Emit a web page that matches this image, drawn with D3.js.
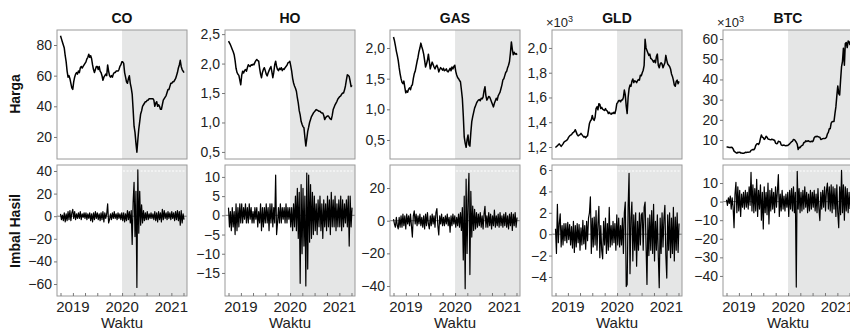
<!DOCTYPE html>
<html><head><meta charset="utf-8">
<script src="https://cdn.jsdelivr.net/npm/d3@7"></script>
<style>
body{margin:0;overflow:hidden;background:#fff}
svg{display:block;font-family:"Liberation Sans",Arial,Helvetica,sans-serif}
</style>
</head><body>
<svg id="chart" width="850" height="335"></svg>
<script>
// ---------------- DATA ----------------
const assets = ["CO", "HO", "GAS", "GLD", "BTC"];
const firstWeek = "2018-10-01";      // weekly observations start
const crisisStart = "2020-01-01";    // shaded period start
const yearTicks = [2019, 2020, 2021];

const priceCO = [86,84,82,80,78,73,69,63,59,60,
58,55,52,51,56,59,61,62,61,63,
62,65,66,65,66,67,68,69,71,72,
74,72,73,71,67,64,62,64,66,66,
64,66,63,62,60,57,59,60,61,60,
67,63,60,59,60,59,61,62,62,63,
63,63,64,66,67,69,69,68,62,59,
56,55,58,60,55,52,48,38,27,23,
16,10,18,25,30,35,37,40,41,42,
43,43,44,44,45,45,45,45,45,44,
40,42,43,40,41,40,38,38,41,44,
45,46,47,49,51,51,53,55,55,56,
56,57,58,60,62,65,67,70,66,64,
63,62];

const priceHO = [2.38,2.35,2.32,2.28,2.24,2.20,2.15,2.05,1.92,1.85,
1.82,1.80,1.72,1.64,1.80,1.87,1.84,1.88,1.90,1.87,
1.93,1.98,1.96,1.95,1.98,1.97,1.99,1.98,2.02,2.05,
2.07,2.05,2.04,1.92,1.82,1.76,1.85,1.90,1.93,1.88,
1.82,1.79,1.84,1.88,1.92,1.95,1.86,1.76,1.85,1.98,
2.04,1.95,1.90,1.88,1.92,1.90,1.93,1.88,1.91,1.90,
1.93,1.95,1.97,2.01,2.02,2.04,1.96,1.87,1.75,1.67,
1.62,1.58,1.53,1.42,1.33,1.20,1.13,1.02,0.97,0.93,
0.91,0.75,0.60,0.72,0.85,0.92,1.00,1.05,1.10,1.13,
1.16,1.18,1.20,1.22,1.21,1.20,1.19,1.19,1.17,1.16,
1.16,1.12,1.05,1.08,1.10,1.11,1.11,1.08,1.06,1.05,
1.12,1.22,1.26,1.30,1.33,1.36,1.40,1.42,1.44,1.45,
1.48,1.50,1.50,1.55,1.62,1.72,1.81,1.80,1.78,1.70,
1.61,1.63];

const priceGAS = [2.18,2.12,2.04,1.95,1.88,1.80,1.68,1.58,1.50,1.44,
1.42,1.46,1.36,1.27,1.30,1.28,1.33,1.35,1.32,1.38,
1.40,1.50,1.58,1.62,1.70,1.78,1.85,1.94,2.00,2.08,
2.02,1.97,1.90,1.80,1.69,1.74,1.80,1.90,1.78,1.66,
1.72,1.77,1.73,1.69,1.66,1.70,1.72,1.68,1.61,1.65,
1.68,1.66,1.64,1.67,1.63,1.64,1.66,1.62,1.61,1.64,
1.67,1.63,1.69,1.66,1.70,1.72,1.62,1.56,1.52,1.50,
1.47,1.45,1.32,1.18,0.90,0.55,0.45,0.38,0.50,0.58,
0.42,0.40,0.62,0.80,0.88,0.95,1.02,1.06,1.10,1.13,
1.15,1.16,1.14,1.18,1.17,1.20,1.30,1.37,1.22,1.15,
1.18,1.21,1.20,1.16,1.12,1.08,1.04,1.10,1.14,1.18,
1.15,1.22,1.25,1.28,1.34,1.40,1.48,1.50,1.55,1.60,
1.62,1.68,1.72,1.78,1.92,2.10,1.98,1.89,1.93,1.90,
1.91,1.89];

const priceGLD = [1195,1205,1210,1218,1225,1215,1205,1215,1225,1240,
1245,1250,1255,1265,1280,1290,1295,1300,1312,1318,
1325,1340,1320,1300,1290,1295,1300,1310,1300,1290,
1280,1285,1275,1285,1290,1340,1390,1410,1420,1455,
1425,1415,1440,1510,1525,1500,1550,1545,1510,1520,
1505,1500,1495,1510,1495,1490,1470,1480,1470,1465,
1475,1470,1480,1470,1500,1550,1560,1575,1575,1565,
1580,1580,1600,1660,1620,1530,1470,1600,1670,1700,
1690,1730,1750,1720,1735,1730,1720,1735,1745,1740,
1780,1775,1800,1820,1860,2070,2000,1980,1960,1940,
1950,1915,1910,1900,1885,1900,1880,1930,1950,1860,
1840,1870,1880,1870,1840,1860,1880,1940,1900,1870,
1860,1850,1830,1790,1770,1740,1700,1690,1730,1740,
1710,1730];

const priceBTC = [6600,6500,6400,6300,6300,6400,6300,5600,4500,4100,
3800,3500,3900,3800,4000,3600,3600,3500,3400,3600,
3900,3800,3900,3900,4000,4100,4900,5100,5300,5200,
5800,7300,8000,8200,7800,8700,10800,12500,11400,11200,
10300,10800,11900,11400,10500,10400,10200,10100,10400,10300,
10000,9900,8500,8200,8300,9400,9200,9000,7600,7300,
7400,7500,7300,7200,7300,7300,7700,8100,8700,9200,
9400,10300,10200,9600,8900,8000,5300,6400,6200,6900,
7300,7500,8800,8800,9600,9300,9500,9600,9200,9100,
9400,9200,9600,11100,11700,11600,11900,11700,11500,11400,
10300,10400,10700,10800,10700,10900,11400,13000,13800,15600,
15600,18400,19100,19200,19200,23100,26400,31900,36800,33000,
32300,39800,46400,49000,55500,47000,57800,58300,55800,59000,
58700,57000];

const retCO = [2,-3,1,-4,3,-5,2,-4,4,-3,
5,-4,3,6,-2,4,-3,2,-2,3,
-2,4,-3,2,-1,3,-2,3,-3,2,
-2,3,-4,2,-5,3,-3,4,-2,3,
-3,2,-4,3,-3,4,-5,3,-2,2,
11,-6,-3,2,-3,3,-2,4,-2,2,
-3,3,-2,2,-3,3,-4,3,-5,2,
-4,5,-3,4,-6,5,-25,12,30,-18,
22,-63,41,-15,22,-8,10,-6,5,-4,
3,-3,4,-3,2,-2,3,-2,2,-3,
4,-4,3,-5,4,-3,3,-5,6,-3,
5,-2,3,-3,4,-2,3,-3,4,-2,
3,-4,4,-3,5,-4,4,-8,5,-6,
2,-3];

const retHO = [2,-3,1,-4,2,-3,1,-5,3,-4,
2,-3,3,-2,3,-2,2,-1,3,-2,
2,-2,3,-1,2,-2,1,-2,2,-1,
2,-3,1,-2,3,-4,2,-3,2,-2,
3,-2,2,-4,3,-2,3,-3,2,-2,
10.5,-5,-2,2,-2,3,-2,2,-1,2,
-2,3,-2,2,-1,2,-3,2,-4,3,
-3,5,-4,7,-6,6,-17.7,8,-10,7,
-8,5,-18.4,11,-14,10.5,-7,8,-6,6,
-5,5,-4,3,-5,4,-3,5,-4,3,
-6,4,-3,3,-4,5,-3,4,-5,6,
-3,4,-3,5,-4,3,-3,4,-3,5,
-4,4,-3,3,-2,4,-3,5,-8,5,
-3,2];

const retGAS = [1,-2,-4,2,-3,-5,2,-4,3,-4,
4,-3,3,-5,4,-2,3,-3,4,-3,
-10,3,6,-2,4,-3,3,-2,4,-3,
2,-4,3,-5,4,-3,5,-2,-5,3,
-3,4,-2,3,-4,5,7.4,-3,-8.7,3,
-2,4,-3,2,-3,3,-2,4,-3,2,
-7,3,-3,4,-2,3,-4,2,-3,4,
-4,5,-6,8,-24,15,-41.6,25.4,-20,12,
29,-33,18,-10,9,-6,7,-5,5,-4,
4,-3,5,-4,3,-5,4,8.8,-4,3,
-4,5,-3,4,-5,3,-3,6.5,-4,3,
-3,4,-4,5,-3,3,-4,4,-3,5,
-4,3,-5,4,-3,5,-6,4,-3,5,
-4,2];

const retGLD = [0.5,-1.8,2.8,-0.8,1.0,1.9,-1.2,0.8,-1.0,1.0,
-0.6,1.0,-0.8,1.1,-0.5,0.9,-1.0,0.7,-1.3,1.2,
-1.7,0.8,-1.2,1.0,-0.8,0.9,-1.5,0.6,-1.0,1.3,
-0.9,0.8,-1.4,1.2,-0.6,1.5,2.0,3.5,-1.8,1.5,
-1.2,1.6,-1.0,2.2,-1.5,1.0,2.6,-2.2,0.8,-1.5,
-2.3,1.2,-1.0,1.5,-1.8,1.0,-1.5,2.5,-1.2,0.8,
-1.0,1.2,-0.8,1.0,-1.5,1.8,-1.0,1.5,-1.2,0.8,
-1.0,1.5,-1.8,2.0,3.0,-4.9,-4.7,2.5,5.7,-3.7,
1.5,3.0,-2.5,1.8,-1.5,2.0,-3.0,1.2,-1.5,2.0,
-1.0,1.8,2.0,-1.5,2.5,3.0,-1.0,-4.7,1.5,-2.0,
1.8,-1.5,2.2,-1.8,2.8,-2.5,1.2,-1.5,1.8,-2.0,
-5.0,1.5,-1.8,2.0,-1.2,1.5,2.7,-2.0,-4.1,1.8,
-1.5,2.0,-2.2,1.5,-1.8,2.5,-2.5,1.6,-1.5,2.0,
-1.7,1.0];

const retBTC = [1,-2,2,-1,3,-4,2,-3,-14,4,
10.4,-6,8,-5,6,-8,4,-3,5,-4,
6,-3,5,-4,8,-2,15.8,-5,9,-6,
7,-5,12,-8,6,-4,9,-10,5,-14.7,
8,-6,5,-7,10,-12,6,-5,7,-4,
5,-6,8,-3,6,14.5,-8,4,-5,6,
-4,3,-5,4,-3,5,-8,6,-4,7,
-5,8,-6,5,-46,16.3,-4,7,-6,5,
-5,6,-4,8,-3,5,-6,4,-5,6,
-4,5,-3,6,-5,4,-6,7,-4,-10.2,
5,-4,6,-3,8,-5,6,10,-4,8,
-5,9,-6,8,-4,7,-8,9,-6,-14,
8,-7,16.8,-6,9,-10,8,-5,7,-6,
5,-4];

const priceTicksCO = [20, 40, 60, 80];
const priceTicksHO = [0.5, 1.0, 1.5, 2.0, 2.5];
const priceTicksGAS = [0.5, 1.0, 1.5, 2.0];
const priceTicksGLD = [1200, 1400, 1600, 1800, 2000];
const priceTicksBTC = [10000, 20000, 30000, 40000, 50000, 60000];
const retTicksCO = [-60, -40, -20, 0, 20, 40];
const retTicksHO = [-15, -10, -5, 0, 5, 10];
const retTicksGAS = [-40, -20, 0, 20];
const retTicksGLD = [-4, -2, 0, 2, 4, 6];
const retTicksBTC = [-40, -30, -20, -10, 0, 10];

// ---------------- LAYOUT ----------------
const svg = d3.select("#chart");
const lefts = [57, 225, 390, 552, 723];
const panelW = 130;
const rowTop = [30, 165];
const rowH = [129, 131];

const loc = d3.formatLocale({decimal: ",", thousands: ".", grouping: [3], currency: ["", ""], minus: "\u2212"});
const fInt = loc.format("d");
const f1 = loc.format(".1f");

const parse = d3.utcParse("%Y-%m-%d");
const t0 = parse(firstWeek);
const n = priceCO.length;
const dates = d3.range(n).map(i => d3.utcDay.offset(t0, 7 * i));

const xDomain = [parse("2018-09-05"), parse("2021-04-27")];
const crisis = parse(crisisStart);

const panels = [
  {price: priceCO, ret: retCO, pd: [5.6, 89.8], rd: [-70.6, 45.3], pt: priceTicksCO, rt: retTicksCO, pf: fInt, scale: 1},
  {price: priceHO, ret: retHO, pd: [0.38, 2.57], rd: [-21, 13.1], pt: priceTicksHO, rt: retTicksHO, pf: f1, scale: 1},
  {price: priceGAS, ret: retGAS, pd: [0.19, 2.294], rd: [-46.1, 34.1], pt: priceTicksGAS, rt: retTicksGAS, pf: f1, scale: 1},
  {price: priceGLD, ret: retGLD, pd: [1103, 2145], rd: [-5.78, 6.47], pt: priceTicksGLD, rt: retTicksGLD, pf: d => f1(d / 1000), scale: 1000},
  {price: priceBTC, ret: retBTC, pd: [600, 64500], rd: [-50.8, 19.7], pt: priceTicksBTC, rt: retTicksBTC, pf: d => fInt(d / 1000), scale: 1000}
];

assets.forEach((name, c) => {
  const p = panels[c];
  const x = d3.scaleUtc().domain(xDomain).range([0, panelW]);

  [0, 1].forEach(r => {
    const h = rowH[r];
    const vals = r === 0 ? p.price : p.ret;
    const y = d3.scaleLinear().domain(r === 0 ? p.pd : p.rd).range([h, 0]);
    const g = svg.append("g").attr("transform", `translate(${lefts[c]},${rowTop[r]})`);

    // shaded crisis period
    g.append("rect").attr("x", x(crisis)).attr("y", 0)
      .attr("width", panelW - x(crisis)).attr("height", h)
      .attr("fill", "#e5e6e6");

    if (r === 1) {
      g.append("line").attr("x1", x(crisis) + 1).attr("x2", panelW - 1)
        .attr("y1", 6).attr("y2", 6)
        .attr("stroke", "#fff").attr("stroke-width", 1).attr("stroke-dasharray", "2,1.5");
      g.append("line").attr("x1", 0).attr("x2", panelW)
        .attr("y1", y(0)).attr("y2", y(0))
        .attr("stroke", "#555").attr("stroke-width", 0.8);
    }

    const line = d3.line().x((d, i) => x(dates[i])).y(d => y(d));
    g.append("path").datum(vals).attr("d", line)
      .attr("fill", "none").attr("stroke", "#000")
      .attr("stroke-width", r === 0 ? 1.5 : 1.2)
      .attr("stroke-linejoin", "round");

    // frame
    g.append("rect").attr("x", 0).attr("y", 0).attr("width", panelW).attr("height", h)
      .attr("fill", "none").attr("stroke", "#9a9a9a").attr("stroke-width", 1);

    // y axis
    const ya = g.append("g").call(d3.axisLeft(y).tickValues(r === 0 ? p.pt : p.rt)
      .tickSize(3).tickPadding(2).tickFormat(r === 0 ? p.pf : fInt));
    ya.select(".domain").remove();
    ya.selectAll("line").attr("stroke", "#777");
    ya.selectAll("text").attr("font-size", 14).attr("fill", "#222")
      .attr("font-family", "Liberation Sans, Arial, sans-serif");

    if (r === 1) {
      // minor quarterly ticks inside bottom
      const xa = g.append("g").attr("transform", `translate(0,${h})`)
        .call(d3.axisBottom(x).ticks(d3.utcMonth.every(3)).tickSize(-3).tickFormat(""));
      xa.select(".domain").remove();
      xa.selectAll("line").attr("stroke", "#777");
      // year labels
      g.selectAll(".yr").data(yearTicks).join("text")
        .attr("x", d => x(d3.utcParse("%Y")(String(d))))
        .attr("y", h + 16)
        .attr("text-anchor", "middle").attr("font-size", 15).attr("fill", "#222")
        .text(d => d);
      g.append("text").attr("x", panelW / 2).attr("y", h + 32)
        .attr("text-anchor", "middle").attr("font-size", 15).attr("fill", "#222")
        .text("Waktu");
    } else {
      g.append("text").attr("x", panelW / 2).attr("y", -7)
        .attr("text-anchor", "middle").attr("font-size", 14).attr("font-weight", "bold")
        .attr("fill", "#111").text(name);
      if (p.scale === 1000) {
        const t = g.append("text").attr("x", -6).attr("y", -3)
          .attr("font-size", 13).attr("fill", "#222");
        t.append("tspan").text("\u00d710");
        t.append("tspan").attr("dy", -5).attr("font-size", 9).text("3");
      }
    }
  });
});

// row labels
svg.append("text").attr("transform", "translate(20,94) rotate(-90)")
  .attr("text-anchor", "middle").attr("font-size", 14).attr("font-weight", "bold")
  .attr("fill", "#111").text("Harga");
svg.append("text").attr("transform", "translate(20,231) rotate(-90)")
  .attr("text-anchor", "middle").attr("font-size", 14).attr("font-weight", "bold")
  .attr("fill", "#111").text("Imbal Hasil");
</script>
</body></html>
